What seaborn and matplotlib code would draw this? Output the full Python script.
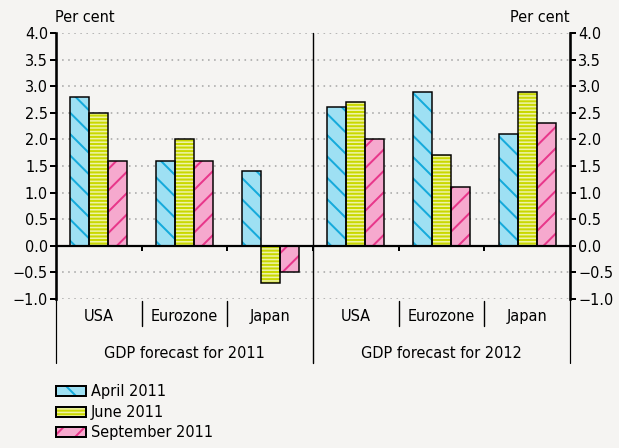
import matplotlib
matplotlib.use("Agg")
import matplotlib.pyplot as plt
from matplotlib.patches import Patch, Rectangle
from matplotlib.legend_handler import HandlerTuple
import matplotlib.transforms as mtransforms
import pandas as pd
import seaborn as sns

# ---- data -------------------------------------------------------------
regions = ["USA", "Eurozone", "Japan"]
years = ["GDP forecast for 2011", "GDP forecast for 2012"]
surveys = ["April 2011", "June 2011", "September 2011"]

april_2011 = [2.8, 1.6, 1.4]
june_2011 = [2.5, 2.0, -0.7]
september_2011 = [1.6, 1.6, -0.5]

april_2012 = [2.6, 2.9, 2.1]
june_2012 = [2.7, 1.7, 2.9]
september_2012 = [2.0, 1.1, 2.3]

y_ticks = [-1.0, -0.5, 0.0, 0.5, 1.0, 1.5, 2.0, 2.5, 3.0, 3.5, 4.0]

# ---- styling ----------------------------------------------------------
DPI = 128          # hatch spacing scales with the output resolution
W, H = 619, 448


def px(n):
    """pixels -> points at the output resolution"""
    return n * 72.0 / DPI


BG = "#F5F4F2"
fills = ["#9EE0F3", "#EEF3A6", "#F6A9CE"]
hatch_cols = ["#15AADB", "#C9D800", "#E8368A"]
hatches = ["\\\\", "-" * 6, "//"]
FS = px(14.5)

sns.set_theme(style="white")
plt.rcParams["font.family"] = ["DejaVu Sans"]
plt.rcParams["text.color"] = "black"
plt.rcParams["hatch.linewidth"] = px(2.0)

# ---- table ------------------------------------------------------------
series_2011 = [april_2011, june_2011, september_2011]
series_2012 = [april_2012, june_2012, september_2012]
rows = []
slots = []
for y_label, block in zip(years, [series_2011, series_2012]):
    for i, reg in enumerate(regions):
        slot = f"{reg} {y_label[-4:]}"
        slots.append(slot)
        for s, vals in zip(surveys, block):
            rows.append({"slot": slot, "survey": s, "value": vals[i]})
df = pd.DataFrame(rows)

fig = plt.figure(figsize=(W / DPI, H / DPI), dpi=DPI, facecolor=BG)
ax = fig.add_axes([56 / W, (H - 299) / H, (570 - 56) / W, 266 / H])
ax.set_facecolor(BG)

sns.barplot(data=df, x="slot", y="value", hue="survey", order=slots,
            hue_order=surveys, palette=fills, saturation=1, width=0.665,
            dodge=True, errorbar=None, legend=False, ax=ax, zorder=3)

# hatching in its own colour, then a black outline on top
for k, cont in enumerate(ax.containers):
    for bar in cont:
        bar.set_hatch(hatches[k])
        bar.set_edgecolor(hatch_cols[k])
        bar.set_linewidth(0)
        ax.add_patch(Rectangle(bar.get_xy(), bar.get_width(), bar.get_height(),
                               fill=False, edgecolor="black", lw=px(1.5), zorder=4))

ax.set_xlim(-0.5, 5.5)
ax.set_ylim(-1.0, 4.0)
ax.set_xlabel("")
ax.set_ylabel("")
ax.set_xticks([])
tick_labels = [f"{v:.1f}".replace("-", "\u2212") for v in y_ticks]
ax.set_yticks(y_ticks)
ax.set_yticklabels(tick_labels, fontsize=FS, color="black")
ax.tick_params(axis="y", direction="out", length=px(6), width=px(2), pad=px(2),
               colors="black", left=True)

# dotted grid
for v in y_ticks:
    if v != 0:
        ax.axhline(v, color="#A8A8A8", lw=px(1.6), ls=(0, (1.0, 2.8)), zorder=1)
ax.axhline(0, color="black", lw=px(2.2), zorder=5)

for side in ["top", "bottom", "right"]:
    ax.spines[side].set_visible(False)
ax.spines["left"].set_linewidth(px(2.6))
ax.spines["left"].set_color("black")

# right-hand axis
ax2 = ax.twinx()
ax2.set_ylim(ax.get_ylim())
ax2.set_yticks(y_ticks)
ax2.set_yticklabels(tick_labels, fontsize=FS, color="black")
ax2.tick_params(axis="y", direction="out", length=px(6), width=px(2), pad=px(2),
                colors="black", right=True)
for side in ["top", "bottom", "left"]:
    ax2.spines[side].set_visible(False)
ax2.spines["right"].set_linewidth(px(2.6))
ax2.spines["right"].set_color("black")
ax2.grid(False)

# vertical rules and category annotation below the axes
trans = mtransforms.blended_transform_factory(ax.transData, ax.transAxes)
ax.plot([2.5, 2.5], [1.0, -0.2406], transform=trans, color="black", lw=px(1.4),
        clip_on=False, zorder=5)
for xe in [-0.5, 5.5]:
    ax.plot([xe, xe], [0.0, -0.2406], transform=trans, color="black", lw=px(1.2),
            clip_on=False, zorder=5)
for xs in [0.5, 1.5, 3.5, 4.5]:
    ax.plot([xs, xs], [-0.0064, -0.1015], transform=trans, color="black", lw=px(1.4),
            clip_on=False, zorder=5)
ax.vlines([0.5, 1.5, 2.5, 3.5, 4.5], -0.1, 0.0, color="black", lw=px(2), zorder=5)

for i, slot in enumerate(slots):
    ax.text(i, -0.066, slot.rsplit(" ", 1)[0], transform=trans, ha="center",
            va="center", fontsize=FS, color="black")
for j, y_label in enumerate(years):
    ax.text(1 + 3 * j, -0.205, y_label, transform=trans, ha="center",
            va="center", fontsize=FS, color="black")

fig.text(55 / W, 1 - 18 / H, "Per cent", ha="left", va="center", fontsize=FS)
fig.text(570 / W, 1 - 18 / H, "Per cent", ha="right", va="center", fontsize=FS)

# legend
handles = []
for k in range(3):
    h_fill = Patch(facecolor=fills[k], edgecolor=hatch_cols[k], hatch=hatches[k], lw=0)
    h_line = Patch(facecolor="none", edgecolor="black", lw=px(2))
    handles.append((h_fill, h_line))
fig.legend(handles, surveys, handler_map={tuple: HandlerTuple(ndivide=1, pad=0)},
           loc="upper left", bbox_to_anchor=(56 / W, 1 - 384 / H),
           frameon=False, fontsize=FS, handlelength=30 / 14.5, handleheight=10 / 14.5,
           handletextpad=5 / 14.5, labelspacing=0.39, borderpad=0, borderaxespad=0)

fig.savefig("out.png", dpi=DPI, facecolor=BG)
